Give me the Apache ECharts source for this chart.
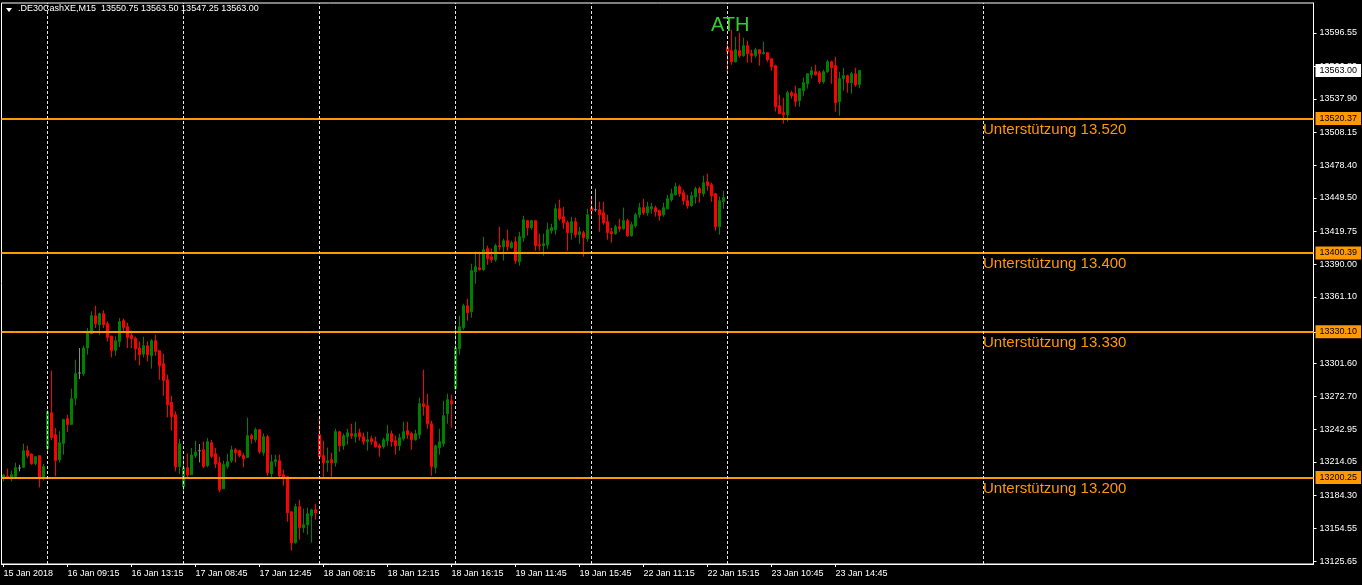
<!DOCTYPE html>
<html>
<head>
<meta charset="utf-8">
<script src="https://cdn.jsdelivr.net/npm/echarts@6/dist/echarts.min.js"></script>
<style>
html,body{margin:0;padding:0;background:#000;}
#c{width:1362px;height:585px;}
</style>
</head>
<body>
<div id="c"></div>
<script>
// ---- data (M15 bars) ----
const days = ['15 Jan','16 Jan','17 Jan','18 Jan','19 Jan','22 Jan','23 Jan'];
const firstLabel = '15 Jan 2018';
const firstDayStart = '13:45';
const sessionStart = '08:00';
const sessionEnd = '16:15';
const futureBars = 113;

const open = [13199.9,13201.4,13199.6,13201.1,13208.6,13209.2,13224.0,13221.0,13212.4,13219.6,
13199.3,13225.8,13257.9,13238.3,13216.0,13230.6,13252.6,13247.5,13270.7,13293.3,
13292.7,13315.6,13328.4,13344.4,13336.4,13346.2,13337.3,13326.3,13313.5,13321.5,
13340.0,13334.6,13326.9,13324.2,13315.6,13310.2,13317.7,13308.8,13322.1,13313.2,
13301.6,13287.3,13267.1,13256.1,13209.8,13191.9,13208.9,13202.6,13219.6,13224.0,
13224.9,13210.9,13231.2,13221.3,13213.3,13190.1,13210.1,13215.1,13224.9,13224.0,
13219.6,13218.1,13237.4,13233.8,13242.8,13222.3,13236.5,13203.5,13214.2,13215.1,
13202.6,13200.8,13169.6,13142.0,13174.1,13155.4,13158.0,13166.1,13171.4,13238.3,
13219.6,13213.3,13216.0,13213.3,13241.0,13228.5,13236.5,13239.2,13236.5,13240.1,
13236.5,13232.1,13234.7,13232.1,13228.5,13227.6,13233.0,13239.2,13233.0,13228.5,
13234.7,13241.9,13239.2,13233.8,13238.3,13265.9,13264.2,13248.1,13209.1,13226.7,
13230.3,13257.0,13268.6,13279.3,13315.0,13333.7,13353.3,13348.0,13383.7,13387.2,
13385.4,13404.2,13397.0,13394.4,13406.9,13406.0,13411.3,13405.1,13410.4,13392.6,
13414.0,13429.2,13422.9,13429.2,13407.7,13406.9,13407.7,13420.2,13421.1,13439.9,
13432.7,13427.4,13418.5,13428.3,13416.7,13418.5,13413.1,13440.8,13439.0,13439.0,
13436.3,13428.3,13419.3,13417.6,13423.8,13422.0,13429.2,13415.8,13424.7,13434.5,
13440.8,13436.3,13439.8,13440.7,13438.1,13434.5,13439.8,13447.9,13452.3,13459.5,
13454.1,13447.0,13442.5,13450.6,13457.7,13453.2,13463.9,13461.2,13453.2,13423.8,
13446.1,13583.4,13580.8,13570.9,13580.8,13576.3,13585.2,13578.1,13576.3,13581.6,
13578.1,13579.0,13573.6,13567.4,13531.7,13525.5,13523.7,13543.3,13542.4,13536.2,
13545.1,13551.3,13559.4,13562.0,13561.1,13553.1,13562.0,13570.9,13567.4,13535.3,
13555.8,13558.5,13552.2,13560.2,13550.75];

const close = [13202.3,13199.6,13202.6,13208.9,13208.6,13224.0,13219.6,13212.4,13218.7,13199.3,
13209.8,13258.8,13235.9,13215.4,13231.2,13251.7,13247.5,13270.4,13292.7,13293.3,
13315.6,13329.6,13344.4,13337.3,13346.2,13336.4,13325.1,13313.5,13322.1,13339.1,
13334.0,13325.1,13323.9,13315.0,13309.6,13317.7,13309.6,13322.1,13312.6,13299.8,
13286.8,13265.1,13254.6,13209.8,13230.3,13208.9,13202.6,13220.2,13222.8,13224.0,
13210.1,13232.1,13219.0,13212.2,13189.2,13211.6,13214.2,13224.9,13222.3,13219.6,
13216.9,13237.4,13234.7,13242.8,13223.1,13236.5,13204.4,13214.2,13216.0,13201.7,
13199.1,13168.7,13142.0,13174.1,13155.4,13158.0,13167.8,13171.4,13168.7,13218.7,
13213.3,13215.1,13213.3,13241.0,13228.5,13237.4,13240.1,13237.4,13239.2,13236.5,
13232.1,13233.8,13232.1,13227.6,13226.7,13233.8,13239.2,13232.1,13228.5,13235.6,
13241.0,13238.3,13233.8,13239.2,13265.9,13263.3,13248.1,13209.8,13228.5,13232.0,
13255.2,13269.5,13265.9,13315.9,13334.6,13353.3,13347.1,13384.6,13388.1,13385.7,
13403.3,13395.3,13394.4,13406.9,13406.0,13411.3,13406.0,13409.5,13393.5,13414.9,
13430.0,13422.9,13429.2,13406.9,13406.9,13408.6,13421.1,13422.9,13439.9,13430.9,
13427.4,13418.5,13428.3,13416.7,13419.3,13414.0,13434.5,13438.1,13439.0,13434.5,
13427.4,13418.5,13417.6,13423.8,13422.0,13429.2,13415.8,13425.6,13434.5,13440.8,
13436.3,13441.6,13441.6,13437.2,13433.6,13440.7,13448.8,13453.2,13459.5,13453.2,
13447.0,13442.5,13451.4,13457.7,13454.1,13463.0,13460.4,13451.4,13423.8,13447.0,
13449.7,13579.9,13570.9,13581.6,13576.3,13585.2,13578.1,13576.3,13581.6,13578.1,
13579.0,13572.7,13566.5,13530.8,13524.6,13523.7,13543.3,13540.6,13535.3,13546.9,
13552.2,13560.2,13562.9,13559.4,13553.1,13562.0,13570.9,13565.6,13534.4,13555.8,
13558.5,13552.2,13560.2,13550.4,13563.0];

const low = [13196.7,13199.0,13196.7,13198.8,13205.6,13208.6,13217.5,13211.5,13210.9,13191.3,
13197.6,13223.4,13233.2,13201.1,13213.6,13220.5,13240.7,13247.2,13264.5,13287.9,
13290.9,13309.6,13328.4,13333.4,13327.5,13333.4,13321.5,13307.3,13308.8,13316.5,
13329.6,13315.6,13315.6,13304.6,13300.1,13307.3,13303.7,13297.2,13308.8,13287.3,
13273.1,13253.8,13241.9,13205.6,13203.5,13187.2,13199.6,13202.6,13217.5,13213.6,
13208.6,13209.2,13217.5,13208.6,13186.9,13190.1,13208.0,13213.3,13213.6,13218.1,
13209.2,13217.5,13230.3,13231.5,13221.4,13219.6,13201.7,13199.9,13209.8,13199.9,
13192.8,13160.7,13134.9,13141.1,13144.7,13150.9,13149.1,13142.0,13162.5,13216.0,
13199.1,13205.3,13200.8,13209.8,13223.1,13224.9,13229.4,13234.7,13231.2,13233.0,
13229.4,13224.0,13229.4,13226.7,13218.7,13225.8,13228.5,13227.6,13220.5,13224.0,
13233.0,13234.7,13224.9,13233.0,13234.7,13255.3,13243.7,13201.7,13203.8,13220.5,
13227.6,13248.1,13244.5,13277.5,13309.6,13331.9,13340.0,13342.6,13373.0,13384.6,
13384.6,13389.9,13391.7,13392.6,13402.4,13393.5,13402.4,13404.2,13390.8,13389.0,
13410.4,13415.8,13421.1,13402.4,13402.4,13397.9,13404.2,13417.6,13416.7,13429.2,
13422.0,13402.4,13412.2,13414.0,13408.6,13397.0,13410.4,13430.9,13437.2,13419.3,
13425.6,13412.2,13409.5,13416.7,13419.3,13421.1,13414.9,13414.9,13422.9,13431.8,
13434.5,13433.6,13435.4,13432.7,13429.1,13432.7,13439.8,13446.1,13451.4,13450.6,
13443.4,13439.8,13441.6,13444.3,13445.2,13450.6,13455.9,13446.1,13420.2,13416.7,
13439.8,13561.1,13568.3,13570.1,13574.5,13575.4,13570.1,13570.1,13574.5,13567.4,
13577.2,13570.9,13562.9,13526.4,13524.6,13515.7,13517.4,13537.9,13530.8,13530.8,
13540.6,13546.9,13555.8,13558.5,13551.3,13551.3,13561.1,13551.3,13526.4,13522.8,
13545.1,13543.3,13542.4,13548.6,13547.25];

const high = [13203.2,13208.0,13206.2,13213.3,13211.5,13230.3,13228.5,13221.6,13219.3,13219.6,
13212.4,13260.6,13295.4,13244.3,13241.3,13252.6,13256.1,13279.3,13305.2,13315.6,
13317.7,13333.4,13348.3,13353.3,13347.1,13349.2,13339.4,13326.3,13326.0,13342.3,
13341.8,13338.2,13331.1,13325.7,13321.5,13325.7,13321.5,13323.6,13327.5,13313.2,
13310.5,13291.8,13273.1,13259.1,13234.7,13219.0,13221.6,13226.4,13232.9,13230.0,
13232.3,13235.3,13233.5,13226.4,13218.7,13215.1,13221.4,13228.5,13226.4,13224.9,
13221.9,13253.5,13239.2,13244.6,13242.8,13239.2,13238.3,13220.5,13220.5,13220.5,
13207.1,13200.8,13169.6,13176.8,13180.3,13172.3,13173.2,13172.3,13176.8,13255.3,
13233.0,13226.7,13222.2,13243.7,13241.0,13239.2,13243.7,13248.1,13249.9,13243.7,
13240.1,13241.0,13237.4,13236.5,13230.3,13235.6,13247.2,13241.9,13237.4,13239.2,
13249.9,13249.9,13241.0,13242.8,13271.3,13296.3,13274.9,13250.8,13229.4,13243.6,
13268.6,13274.9,13274.0,13336.4,13344.4,13355.1,13359.6,13390.8,13401.5,13401.5,
13414.9,13406.9,13404.2,13408.6,13423.8,13413.1,13421.1,13411.3,13414.9,13419.3,
13433.6,13430.0,13430.0,13429.2,13417.6,13417.6,13427.4,13426.5,13444.3,13447.9,
13441.6,13429.2,13432.7,13431.8,13423.8,13420.2,13439.9,13448.8,13457.7,13446.1,
13446.1,13434.5,13422.9,13425.6,13430.9,13440.8,13430.9,13428.3,13436.3,13445.2,
13448.8,13446.1,13445.2,13442.5,13439.0,13445.2,13452.3,13457.7,13463.0,13461.2,
13456.8,13452.3,13455.0,13459.5,13459.5,13469.3,13471.0,13463.0,13454.1,13450.6,
13455.9,13587.0,13599.5,13593.2,13596.8,13592.4,13589.7,13581.6,13583.4,13581.6,
13588.8,13579.0,13573.6,13568.3,13541.5,13538.8,13545.1,13545.1,13549.5,13546.9,
13556.7,13560.2,13566.5,13568.3,13562.9,13563.8,13572.7,13571.8,13575.4,13562.0,
13565.6,13559.4,13562.0,13565.6,13563.5];

const supportLevels = [13520.37, 13400.39, 13330.10, 13200.25];
const supportTexts = ['Unterstützung 13.520','Unterstützung 13.400','Unterstützung 13.330','Unterstützung 13.200'];
const bidPrice = 13563.00;
const separatorBars = [11, 45, 79, 113, 147, 181, 245];
const textAnchorBar = 245;
const athBar = 177;
const athPrice = 13612.3;
const yTickValues = [13125.65,13154.55,13184.30,13214.05,13242.95,13272.70,13301.60,13330.10,
13361.10,13390.00,13419.75,13449.50,13478.40,13508.15,13537.90,13566.80,13596.55];
const yMin = 13123.0, yMax = 13623.3;
const headerText = '.DE30CashXE,M15  13550.75 13563.50 13547.25 13563.00';

// ---- build categories ----
function toMin(s){const p=s.split(':');return (+p[0])*60+(+p[1]);}
function fmt(m){const h=Math.floor(m/60),mm=m%60;return (h<10?'0':'')+h+':'+(mm<10?'0':'')+mm;}
const categories = [];
days.forEach((d,di)=>{
  const start = di===0 ? toMin(firstDayStart) : toMin(sessionStart);
  for(let m=start;m<=toMin(sessionEnd);m+=15){ categories.push(d+' '+fmt(m)); }
});
categories[0] = firstLabel;
for(let i=0;i<futureBars;i++) categories.push('');

const UP='#008000', DOWN='#FF0000', DOJI='#8c8c8c', ORANGE='#FF9900';
const candleData = open.map((o,i)=>{
  const v=[o, close[i], low[i], high[i]];
  if(o===close[i]) return {value:v, itemStyle:{color:DOJI,color0:DOJI,borderColor:DOJI,borderColor0:DOJI}};
  return v;
});

const FONT='"Liberation Sans", Arial, sans-serif';
const markLineData = [];
supportLevels.forEach(v=>{
  markLineData.push({yAxis:v, lineStyle:{color:ORANGE,width:2,type:'solid'},
    label:{show:true,position:'end',distance:2,formatter:v.toFixed(2),backgroundColor:ORANGE,color:'#000',
      fontSize:9,fontFamily:FONT,padding:[2,4,1,4],lineHeight:10}});
});
markLineData.push({yAxis:bidPrice, lineStyle:{color:'rgba(0,0,0,0)',width:0},
  label:{show:true,position:'end',distance:2,formatter:bidPrice.toFixed(2),backgroundColor:'#ffffff',color:'#000',
    fontSize:9,fontFamily:FONT,padding:[2,4,1,4],lineHeight:10,opacity:1}});
separatorBars.forEach(b=>{
  markLineData.push({xAxis:b, lineStyle:{color:'#e6e6e6',width:1,type:[3,2]}, label:{show:false}});
});

const markPointData = supportLevels.map((v,i)=>({coord:[textAnchorBar,v], name:supportTexts[i],
  label:{color:ORANGE,fontSize:15,position:[0,4]}}));
markPointData.push({coord:[athBar,athPrice], name:'ATH', label:{color:'#32CD32',fontSize:20,position:[0,1]}});

const chart = echarts.init(document.getElementById('c'));
chart.setOption({
  backgroundColor:'#000',
  animation:false,
  grid:{left:1.5,right:48.5,top:3,bottom:21,show:true,borderColor:'#fff',borderWidth:1,backgroundColor:'transparent'},
  xAxis:{
    type:'category', data:categories, boundaryGap:true,
    axisLine:{show:true,lineStyle:{color:'#fff',width:1}},
    axisTick:{show:true,alignWithLabel:true,length:3,interval:(i,v)=>i%16===0&&v!=='',lineStyle:{color:'#fff'}},
    axisLabel:{show:true,interval:(i,v)=>i%16===0&&v!=='',color:'#fff',fontSize:9,fontFamily:FONT,align:'left',margin:5},
    splitLine:{show:false}
  },
  yAxis:{
    type:'value', position:'right', min:yMin, max:yMax, scale:true,
    axisLine:{show:true,lineStyle:{color:'#fff',width:1}},
    axisTick:{show:true,length:3,customValues:yTickValues,lineStyle:{color:'#fff'}},
    axisLabel:{show:true,customValues:yTickValues,color:'#fff',fontSize:9,fontFamily:FONT,margin:6,
      formatter:v=>v.toFixed(2)},
    splitLine:{show:false}
  },
  series:[{
    type:'candlestick',
    data:candleData,
    barWidth:2,
    itemStyle:{color:UP,color0:DOWN,borderColor:UP,borderColor0:DOWN,borderWidth:1},
    markLine:{silent:true,symbol:['none','none'],animation:false,data:markLineData},
    markPoint:{silent:true,symbol:'rect',symbolSize:1,itemStyle:{color:'rgba(0,0,0,0)'},animation:false,
      label:{show:true,formatter:p=>p.name,align:'left',verticalAlign:'top',fontFamily:FONT},
      data:markPointData}
  }],
  graphic:[
    {type:'polygon',shape:{points:[[6,8],[12,8],[9,12]]},style:{fill:'#fff'},z:100},
    {type:'text',left:18,top:4,style:{text:headerText,fill:'#fff',font:'9px '+FONT},z:100}
  ]
});
</script>
</body>
</html>
